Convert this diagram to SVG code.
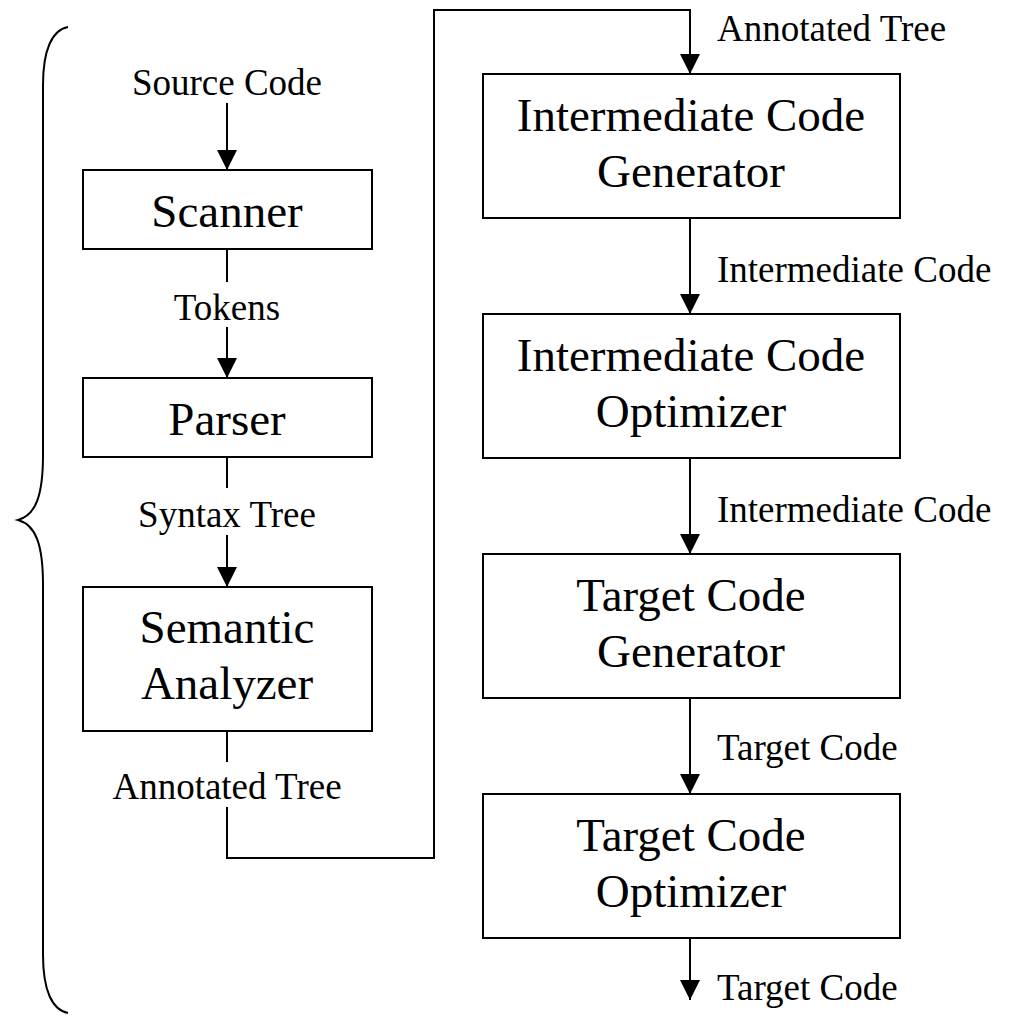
<svg xmlns="http://www.w3.org/2000/svg" width="1011" height="1018" viewBox="0 0 1011 1018">
<defs>
<style>
.box{fill:#fff;stroke:#000;stroke-width:2}
.ln{fill:none;stroke:#000;stroke-width:2}
.title{font-family:"Liberation Serif","Times New Roman",serif;font-size:47px;fill:#000;text-anchor:middle}
.lbl{font-family:"Liberation Serif","Times New Roman",serif;font-size:37px;fill:#000}
.c{text-anchor:middle}
</style>
<marker id="ah" markerWidth="20" markerHeight="21" refX="20" refY="10" orient="auto" markerUnits="userSpaceOnUse">
<path d="M0,0 L20,10 L0,20 Z" fill="#000"/>
</marker>
</defs>
<rect width="1011" height="1018" fill="#fff"/>
<g id="brace">
<path class="ln" d="M68,27 C52,30 43,50 43,85 L43,455 C43,495 36,515 18,520 C36,525 43,545 43,585 L43,955 C43,990 52,1010 68,1013"/>
</g>
<g id="connectors">
<line class="ln" x1="227" y1="103" x2="227" y2="170" marker-end="url(#ah)"/>
<line class="ln" x1="227" y1="249" x2="227" y2="282"/>
<line class="ln" x1="227" y1="327" x2="227" y2="378" marker-end="url(#ah)"/>
<line class="ln" x1="227" y1="457" x2="227" y2="488"/>
<line class="ln" x1="227" y1="535" x2="227" y2="587" marker-end="url(#ah)"/>
<line class="ln" x1="227" y1="731" x2="227" y2="762"/>
<polyline class="ln" points="227,807 227,858 434,858 434,10 690,10 690,74" marker-end="url(#ah)"/>
<line class="ln" x1="690" y1="218" x2="690" y2="314" marker-end="url(#ah)"/>
<line class="ln" x1="690" y1="458" x2="690" y2="554" marker-end="url(#ah)"/>
<line class="ln" x1="690" y1="698" x2="690" y2="794" marker-end="url(#ah)"/>
<line class="ln" x1="690" y1="938" x2="690" y2="1000" marker-end="url(#ah)"/>
</g>
<g id="labels">
<text class="lbl c" x="227" y="95">Source Code</text>
<text class="lbl c" x="227" y="320">Tokens</text>
<text class="lbl c" x="227" y="527">Syntax Tree</text>
<text class="lbl c" x="227" y="799">Annotated Tree</text>
<text class="lbl" x="717" y="41">Annotated Tree</text>
<text class="lbl" x="717" y="282">Intermediate Code</text>
<text class="lbl" x="717" y="522">Intermediate Code</text>
<text class="lbl" x="717" y="760">Target Code</text>
<text class="lbl" x="717" y="1000">Target Code</text>
</g>
<g id="scanner">
<rect class="box" x="83" y="170" width="289" height="79"/>
<text class="title" x="227" y="227">Scanner</text>
</g>
<g id="parser">
<rect class="box" x="83" y="378" width="289" height="79"/>
<text class="title" x="227" y="435">Parser</text>
</g>
<g id="semantic-analyzer">
<rect class="box" x="83" y="587" width="289" height="144"/>
<text class="title" x="227" y="643">Semantic</text>
<text class="title" x="227" y="699">Analyzer</text>
</g>
<g id="icg">
<rect class="box" x="483" y="74" width="417" height="144"/>
<text class="title" x="691" y="131">Intermediate Code</text>
<text class="title" x="691" y="187">Generator</text>
</g>
<g id="ico">
<rect class="box" x="483" y="314" width="417" height="144"/>
<text class="title" x="691" y="371">Intermediate Code</text>
<text class="title" x="691" y="427">Optimizer</text>
</g>
<g id="tcg">
<rect class="box" x="483" y="554" width="417" height="144"/>
<text class="title" x="691" y="611">Target Code</text>
<text class="title" x="691" y="667">Generator</text>
</g>
<g id="tco">
<rect class="box" x="483" y="794" width="417" height="144"/>
<text class="title" x="691" y="851">Target Code</text>
<text class="title" x="691" y="907">Optimizer</text>
</g>
</svg>
